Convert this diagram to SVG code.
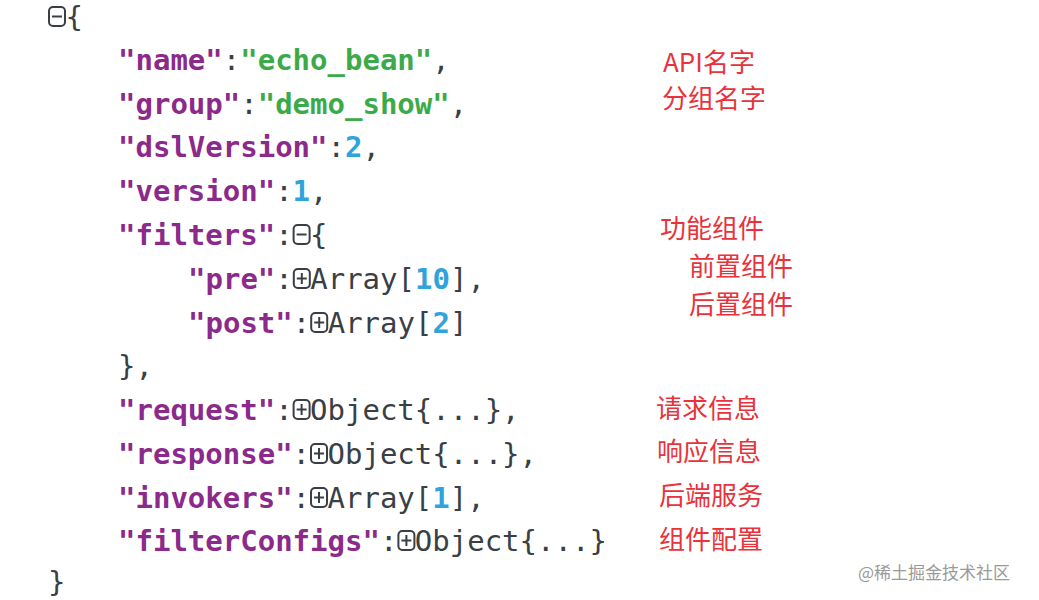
<svg xmlns="http://www.w3.org/2000/svg" width="1039" height="600" viewBox="0 0 1039 600">
<style>
.c{font-family:"DejaVu Sans Mono",monospace;font-size:29px;fill:#3a3f45;white-space:pre}
.k{fill:#8b2a8b;font-weight:bold}.s{fill:#3daa4a;font-weight:bold}.n{fill:#2ea3dc;font-weight:bold}
.a{font-family:"Noto Sans CJK SC","Noto Sans",sans-serif;font-size:26px;fill:#e8333c}
.w{font-family:"Noto Sans CJK SC",sans-serif;font-size:17px;fill:#9a9a9a}
</style>
<defs>
<g id="minus" fill="none" stroke="#3a3f45" stroke-width="2"><rect x="1" y="-20" width="16" height="19" rx="4"/><line x1="4" y1="-10.5" x2="14" y2="-10.5"/></g>
<g id="plus"><use href="#minus"/><line x1="9" y1="-16" x2="9" y2="-5" stroke="#3a3f45" stroke-width="2"/></g>
</defs>
<rect width="1039" height="600" fill="#fff"/>
<g id="code">
<text class="c" x="48" y="27"> {</text>
<text class="c" x="118" y="70"><tspan class="k">"name"</tspan>:<tspan class="s">"echo_bean"</tspan>,</text>
<text class="c" x="118" y="114"><tspan class="k">"group"</tspan>:<tspan class="s">"demo_show"</tspan>,</text>
<text class="c" x="118" y="157"><tspan class="k">"dslVersion"</tspan>:<tspan class="n">2</tspan>,</text>
<text class="c" x="118" y="201"><tspan class="k">"version"</tspan>:<tspan class="n">1</tspan>,</text>
<text class="c" x="118" y="245"><tspan class="k">"filters"</tspan>: {</text>
<text class="c" x="188" y="289"><tspan class="k">"pre"</tspan>: Array[<tspan class="n">10</tspan>],</text>
<text class="c" x="188" y="333"><tspan class="k">"post"</tspan>: Array[<tspan class="n">2</tspan>]</text>
<text class="c" x="118" y="376">},</text>
<text class="c" x="118" y="420"><tspan class="k">"request"</tspan>: Object{...},</text>
<text class="c" x="118" y="464"><tspan class="k">"response"</tspan>: Object{...},</text>
<text class="c" x="118" y="508"><tspan class="k">"invokers"</tspan>: Array[<tspan class="n">1</tspan>],</text>
<text class="c" x="118" y="551"><tspan class="k">"filterConfigs"</tspan>: Object{...}</text>
<text class="c" x="48" y="592">}</text>
<use href="#minus" x="48" y="27"/>
<use href="#minus" x="292.6" y="245"/>
<use href="#plus" x="292.8" y="289"/>
<use href="#plus" x="310.2" y="333"/>
<use href="#plus" x="292.6" y="420"/>
<use href="#plus" x="310" y="464"/>
<use href="#plus" x="310" y="508"/>
<use href="#plus" x="397.4" y="551"/>
</g>
<g id="notes">
<text class="a" x="663" y="72">API名字</text>
<text class="a" x="662" y="108">分组名字</text>
<text class="a" x="660" y="238">功能组件</text>
<text class="a" x="689" y="276">前置组件</text>
<text class="a" x="689" y="314">后置组件</text>
<text class="a" x="656" y="418">请求信息</text>
<text class="a" x="657" y="461">响应信息</text>
<text class="a" x="659" y="505">后端服务</text>
<text class="a" x="659" y="549">组件配置</text>
<text class="w" x="858" y="579">@稀土掘金技术社区</text>
</g>
</svg>
